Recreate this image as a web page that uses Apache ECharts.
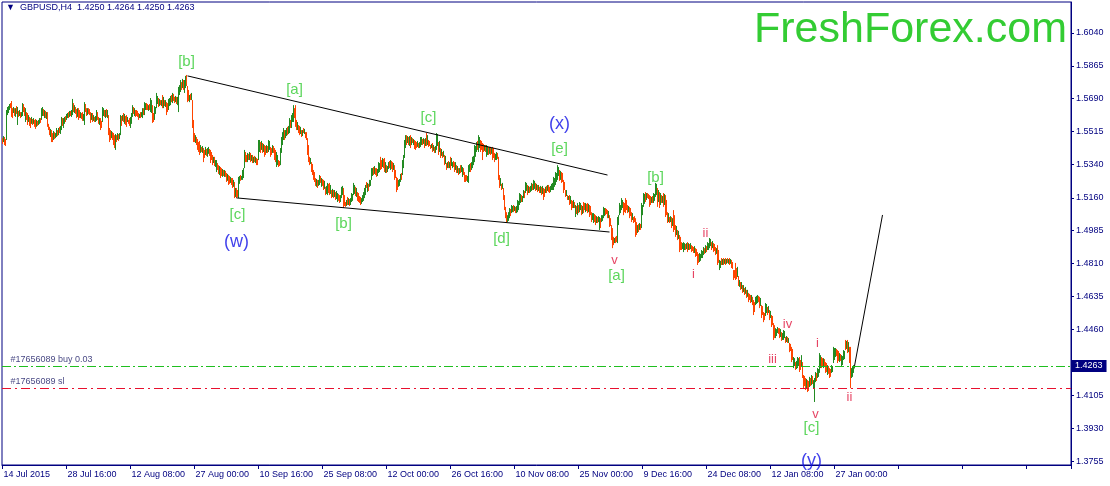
<!DOCTYPE html>
<html><head><meta charset="utf-8">
<script src="https://cdn.jsdelivr.net/npm/echarts@6/dist/echarts.min.js"></script>
<style>html,body{margin:0;padding:0;background:#fff}#c{width:1110px;height:486px}</style>
</head><body><div id="c"></div>
<script>
// ---- data ----
const symbolTitle = 'GBPUSD,H4';
const lastOHLC = ['1.4250', '1.4264', '1.4250', '1.4263'];
const timeLabels = ['14 Jul 2015','28 Jul 16:00','12 Aug 08:00','27 Aug 00:00','10 Sep 16:00','25 Sep 08:00','12 Oct 00:00','26 Oct 16:00','10 Nov 08:00','25 Nov 00:00','9 Dec 16:00','24 Dec 08:00','12 Jan 08:00','27 Jan 00:00'];
const barsPerLabel = 64;
const priceTicks = [1.6040,1.5865,1.5690,1.5515,1.5340,1.5160,1.4985,1.4810,1.4635,1.4460,1.4105,1.3930,1.3755];
// bar highs / lows in 1/10000 of a dollar (GBPUSD x 10000)
const highs = [
15479,15490,15485,15474,15629,15645,15650,15661,15666,15677,
15639,15645,15639,15639,15650,15645,15624,15629,15618,15618,
15666,15661,15645,15639,15618,15613,15602,15592,15586,15592,
15581,15586,15576,15581,15576,15571,15576,15586,15586,15639,
15645,15634,15629,15624,15618,15618,15555,15539,15528,15522,
15506,15517,15511,15506,15533,15522,15533,15539,15544,15592,
15586,15586,15592,15597,15608,15613,15618,15624,15624,15629,
15688,15666,15655,15645,15634,15639,15639,15629,15618,15613,
15618,15608,15671,15661,15639,15639,15639,15634,15618,15613,
15613,15602,15592,15597,15629,15618,15592,15586,15586,15571,
15645,15639,15629,15629,15634,15629,15602,15533,15522,15517,
15511,15506,15495,15501,15495,15506,15501,15506,15602,15597,
15602,15613,15608,15597,15602,15592,15576,15586,15592,15613,
15655,15645,15639,15629,15629,15624,15613,15608,15618,15618,
15639,15639,15671,15666,15666,15661,15655,15661,15693,15682,
15655,15613,15650,15645,15720,15704,15693,15688,15682,15682,
15709,15699,15682,15682,15671,15666,15688,15693,15704,15709,
15720,15715,15699,15704,15699,15699,15752,15762,15789,15778,
15795,15789,15789,15811,15816,15757,15736,15709,15715,15720,
15682,15576,15506,15495,15485,15474,15458,15464,15442,15432,
15437,15426,15416,15432,15421,15426,15432,15421,15416,15405,
15389,15379,15379,15362,15362,15346,15335,15330,15325,15319,
15314,15309,15309,15304,15293,15288,15282,15277,15272,15266,
15266,15256,15245,15213,15213,15202,15272,15277,15282,15277,
15309,15319,15416,15405,15389,15400,15395,15405,15400,15389,
15389,15379,15384,15379,15373,15368,15469,15469,15458,15464,
15453,15448,15442,15437,15442,15437,15469,15464,15432,15426,
15442,15437,15426,15416,15405,15389,15362,15357,15426,15485,
15511,15533,15522,15522,15533,15539,15544,15586,15576,15602,
15613,15655,15639,15655,15576,15565,15549,15544,15539,15522,
15522,15533,15528,15511,15511,15479,15442,15379,15373,15351,
15341,15309,15298,15266,15261,15256,15256,15282,15277,15266,
15261,15256,15251,15219,15224,15240,15235,15240,15229,15202,
15208,15202,15202,15191,15197,15186,15181,15175,15175,15219,
15224,15213,15175,15138,15149,15165,15159,15154,15159,15186,
15181,15240,15229,15219,15213,15191,15186,15170,15165,15159,
15175,15191,15213,15229,15245,15240,15235,15256,15256,15319,
15319,15325,15330,15319,15319,15314,15351,15346,15379,15362,
15373,15368,15373,15351,15335,15330,15351,15357,15362,15357,
15351,15346,15335,15309,15272,15266,15256,15261,15288,15293,
15362,15389,15469,15495,15495,15490,15485,15490,15495,15485,
15479,15474,15469,15464,15458,15464,15453,15458,15485,15485,
15474,15479,15474,15479,15506,15495,15469,15464,15442,15448,
15453,15442,15432,15437,15506,15501,15458,15464,15426,15421,
15405,15411,15389,15384,15346,15351,15357,15351,15379,15373,
15351,15357,15351,15351,15335,15330,15319,15319,15335,15335,
15325,15319,15298,15282,15282,15277,15335,15341,15346,15351,
15379,15384,15442,15437,15458,15464,15495,15485,15469,15464,
15453,15448,15442,15442,15442,15437,15432,15432,15432,15426,
15432,15426,15400,15395,15405,15400,15379,15282,15266,15235,
15240,15213,15175,15112,15084,15068,15084,15106,15101,15122,
15117,15122,15117,15112,15117,15149,15144,15186,15181,15175,
15170,15202,15197,15245,15240,15229,15224,15219,15224,15240,
15235,15256,15251,15240,15235,15229,15229,15219,15224,15219,
15224,15213,15208,15219,15224,15229,15229,15219,15224,15235,
15240,15272,15266,15298,15293,15335,15325,15309,15304,15298,
15293,15256,15245,15202,15202,15175,15170,15175,15170,15149,
15144,15149,15138,15122,15117,15133,15122,15138,15133,15122,
15117,15138,15133,15133,15128,15133,15128,15122,15117,15084,
15079,15079,15074,15068,15063,15058,15063,15058,15052,15068,
15068,15112,15106,15106,15101,15095,15090,15068,15052,15015,
14999,14952,14946,14952,14957,15058,15068,15133,15122,15159,
15149,15138,15133,15159,15149,15122,15117,15112,15106,15084,
15079,15058,15063,15052,15031,15015,15021,15026,15021,15133,
15122,15186,15181,15191,15186,15186,15181,15175,15170,15165,
15170,15186,15181,15240,15235,15213,15202,15191,15186,15175,
15170,15186,15181,15175,15149,15084,15079,15058,15063,15058,
15052,15095,15068,15015,15010,14989,14984,14962,14952,14924,
14919,14924,14919,14914,14919,14924,14919,14914,14919,14908,
14903,14898,14903,14892,14887,14871,14861,14866,14861,14882,
14877,14898,14892,14908,14903,14924,14919,14946,14941,14924,
14930,14919,14914,14898,14892,14908,14882,14829,14824,14839,
14834,14839,14834,14839,14834,14839,14834,14839,14834,14829,
14818,14775,14775,14813,14786,14792,14743,14722,14711,14711,
14695,14695,14679,14685,14669,14669,14653,14648,14642,14642,
14632,14615,14604,14632,14637,14642,14637,14632,14626,14588,
14583,14551,14546,14599,14594,14578,14583,14562,14557,14535,
14530,14492,14481,14465,14460,14471,14465,14465,14460,14444,
14439,14455,14450,14418,14423,14418,14412,14386,14381,14365,
14354,14311,14305,14284,14290,14311,14305,14311,14295,14321,
14284,14215,14210,14199,14194,14188,14183,14205,14199,14215,
14210,14188,14199,14231,14226,14252,14247,14332,14321,14311,
14305,14305,14300,14284,14279,14268,14263,14252,14247,14268,
14263,14365,14359,14359,14354,14348,14343,14332,14327,14321,
14316,14348,14343,14402,14397,14402,14391,14365,14365,14252,
14258,14268,14264];
const lows = [
15448,15458,15442,15437,15469,15602,15613,15629,15639,15592,
15586,15613,15597,15592,15608,15549,15592,15597,15586,15592,
15597,15618,15597,15565,15576,15549,15565,15544,15533,15555,
15549,15555,15539,15528,15539,15544,15549,15555,15560,15576,
15597,15597,15586,15586,15581,15539,15522,15495,15485,15458,
15458,15469,15474,15479,15485,15490,15495,15506,15501,15522,
15544,15533,15555,15565,15576,15586,15586,15592,15597,15592,
15602,15618,15613,15608,15586,15592,15576,15586,15586,15581,
15571,15571,15549,15618,15597,15602,15608,15602,15560,15576,
15565,15571,15565,15565,15571,15576,15555,15549,15522,15533,
15565,15597,15592,15586,15592,15586,15495,15458,15469,15479,
15469,15442,15426,15416,15458,15469,15464,15474,15495,15544,
15571,15565,15555,15549,15539,15565,15555,15544,15533,15555,
15592,15608,15597,15592,15597,15592,15576,15586,15586,15592,
15586,15602,15602,15629,15629,15629,15624,15629,15618,15613,
15560,15565,15576,15608,15639,15661,15645,15650,15655,15650,
15639,15639,15650,15645,15602,15618,15629,15650,15655,15671,
15666,15677,15666,15671,15661,15655,15618,15709,15725,15736,
15746,15736,15720,15746,15757,15671,15677,15671,15682,15682,
15533,15458,15458,15453,15442,15416,15405,15389,15400,15405,
15400,15351,15373,15389,15384,15379,15395,15384,15346,15362,
15335,15346,15330,15325,15298,15309,15288,15282,15266,15277,
15272,15277,15272,15272,15245,15251,15229,15235,15240,15229,
15213,15219,15159,15165,15159,15165,15159,15235,15251,15256,
15256,15266,15319,15351,15351,15351,15362,15362,15351,15357,
15346,15346,15351,15346,15335,15335,15362,15405,15400,15416,
15400,15405,15379,15389,15400,15400,15405,15416,15379,15389,
15400,15400,15362,15351,15325,15335,15325,15330,15335,15400,
15442,15469,15469,15479,15490,15495,15501,15506,15533,15533,
15565,15565,15586,15539,15522,15522,15506,15495,15501,15485,
15490,15506,15501,15479,15469,15389,15351,15335,15341,15298,
15282,15256,15245,15224,15219,15213,15224,15229,15240,15219,
15224,15202,15208,15175,15181,15175,15186,15175,15181,15159,
15165,15159,15165,15149,15154,15138,15144,15133,15138,15159,
15175,15106,15117,15112,15117,15122,15122,15117,15122,15138,
15144,15175,15181,15170,15165,15144,15138,15133,15122,15128,
15138,15144,15159,15175,15213,15191,15197,15219,15224,15256,
15277,15282,15288,15282,15272,15277,15293,15298,15309,15314,
15325,15319,15298,15293,15293,15298,15314,15319,15309,15314,
15298,15309,15256,15266,15191,15202,15219,15224,15245,15256,
15282,15319,15373,15426,15442,15453,15442,15437,15426,15442,
15453,15442,15421,15416,15426,15432,15426,15426,15432,15442,
15442,15448,15426,15437,15437,15442,15432,15437,15421,15426,
15405,15411,15400,15400,15416,15437,15389,15405,15373,15384,
15373,15379,15335,15341,15309,15319,15319,15319,15309,15330,
15319,15325,15298,15309,15293,15293,15282,15288,15293,15298,
15272,15282,15245,15245,15251,15245,15240,15298,15298,15309,
15319,15335,15351,15379,15405,15416,15405,15426,15405,15416,
15362,15405,15411,15405,15379,15389,15389,15395,15389,15395,
15362,15373,15351,15362,15362,15368,15256,15213,15224,15202,
15208,15149,15095,15052,15026,15031,15037,15052,15063,15079,
15084,15084,15090,15079,15079,15084,15095,15122,15133,15138,
15138,15159,15159,15186,15197,15175,15186,15186,15191,15197,
15202,15202,15208,15197,15202,15191,15197,15186,15186,15175,
15181,15149,15165,15186,15186,15197,15191,15186,15191,15202,
15202,15202,15219,15229,15245,15256,15277,15251,15256,15240,
15245,15186,15202,15165,15170,15149,15149,15122,15128,15095,
15106,15106,15106,15058,15074,15068,15079,15084,15095,15068,
15074,15079,15095,15084,15090,15079,15084,15058,15068,15031,
15042,15026,15031,15015,15026,15026,15031,14989,14999,15031,
15037,15052,15063,15068,15074,15052,15052,15005,15010,14935,
14892,14908,14919,14919,14924,14919,15015,15068,15079,15095,
15106,15068,15084,15079,15095,15079,15084,15052,15063,15031,
15042,15026,15031,14952,14962,14973,14978,14989,14989,14999,
15068,15112,15128,15138,15149,15159,15154,15112,15122,15133,
15133,15133,15144,15165,15175,15112,15138,15106,15122,15133,
15133,15112,15122,15058,15068,15026,15031,15026,15031,14999,
15010,14978,14989,14952,14962,14935,14941,14871,14882,14882,
14887,14871,14882,14882,14887,14871,14882,14882,14887,14871,
14877,14866,14866,14845,14850,14802,14813,14818,14824,14839,
14839,14855,14861,14866,14871,14882,14882,14892,14903,14882,
14892,14871,14877,14855,14861,14802,14813,14775,14786,14802,
14802,14802,14808,14802,14808,14813,14808,14802,14808,14786,
14781,14722,14732,14722,14727,14738,14690,14685,14669,14674,
14653,14658,14642,14648,14626,14632,14604,14615,14599,14604,
14588,14535,14551,14588,14594,14599,14604,14572,14583,14519,
14535,14497,14508,14530,14546,14535,14546,14508,14519,14471,
14481,14402,14412,14412,14423,14439,14434,14412,14418,14397,
14402,14402,14412,14386,14391,14386,14386,14337,14343,14284,
14295,14252,14263,14242,14247,14252,14263,14231,14242,14258,
14199,14145,14156,14135,14145,14124,14130,14151,14156,14161,
14167,14145,14071,14177,14183,14199,14205,14226,14252,14252,
14263,14252,14258,14226,14231,14215,14221,14199,14205,14226,
14231,14279,14295,14311,14316,14279,14290,14284,14290,14258,
14268,14295,14300,14348,14354,14332,14337,14279,14145,14199,
14205,14226,14250];
// bar direction: u = up (green), d = down (red)
const dirs =
'dudduuuudd'+'dududududu'+'uddudduddu'+'dudduduudu'+'udududddud'+
'duduududuu'+'duuduududu'+'ududduddud'+'duuddudddu'+'duduuddudd'+
'uudududddu'+'dddududuud'+'ududdudduu'+'ududdddudu'+'uduudduduu'+
'dduuuududu'+'dududduuud'+'udduduuuud'+'uduudddudu'+'ddduddddud'+
'udduduuddd'+'duduuddudd'+'ududduddud'+'dududduudu'+'uuuddududu'+
'dududduudu'+'dudduduudd'+'uddduudduu'+'uuduuduudu'+'uuddduddud'+
'ududddddud'+'dddduduudu'+'dduduuddud'+'ududuudduu'+'udddududuu'+
'uuududdddu'+'uuuududuuu'+'ududduuudd'+'udduduudud'+'dudddduuud'+
'uuuudududu'+'duddduduuu'+'dudududddu'+'duduuududu'+'dududududu'+
'uddudududu'+'udddduuudu'+'uuuuuduudd'+'dduduududu'+'ddduudddud'+
'udddduuudu'+'ududuuuuud'+'uuduududuu'+'duudududud'+'uddududduu'+
'uuuuuuudud'+'ddddududud'+'dudududuud'+'uddudduddd'+'uudduduudu'+
'uuuddduddd'+'ddudduuuuu'+'uddddduddd'+'uddddududu'+'uuududdddu'+
'duuuududud'+'ududddudud'+'udddududdd'+'uuudududud'+'ddudddduuu'+
'uududuuuud'+'udddudduud'+'ududududud'+'dddddududu'+'dudududddu'+
'ddduuuddud'+'ddduududud'+'ddduuuddud'+'uuudududdd'+'duuduuuddu'+
'dddduddudu'+'duuuduuuud'+'dudddudddu'+'uuuudddudu'+'uuudududdu'+
'uuu';
const buyPrice = 1.4263;
const slPrice = 1.4146;
const orderTexts = ['#17656089 buy 0.03', '#17656089 sl'];

// ---- annotations (anchored in data space: bar index, price) ----
const trendLines = [[185, 1.5811, 605, 1.5282], [234, 1.5160, 607, 1.4978], [852, 1.4263, 880, 1.5069]];
const greenWaves = [['[b]',184,1.5885],['[a]',292,1.5736],['[c]',426,1.5586],['[e]',557,1.5421],['[c]',235,1.5069],['[b]',341,1.5021],['[d]',499,1.4941],['[b]',653,1.5266],['[a]',614,1.4743],['[c]',809,1.3932]];
const blueWaves = [['(w)',234,1.4925],['(x)',557,1.5554],['(y)',809,1.3758]];
const redWaves = [['v',612,1.4829],['ii',703,1.4973],['i',691,1.4754],['iv',785,1.4487],['iii',770,1.4300],['i',815,1.4386],['v',813,1.4007],['ii',847,1.4098]];
const orderLabelAnchors = [[8, 1.4295], [8, 1.4178]];

// ---- build ----
const SLOTS = 1069;
const NAVY = '#000080';
const FONT = "'Liberation Sans', Arial, sans-serif";
const categories = Array.from({length: SLOTS}, (_, i) => i);
const candles = highs.map((h, i) => {
  const hi = h / 10000, lo = lows[i] / 10000;
  return dirs[i] === 'u' ? [lo, hi, lo, hi] : [hi, lo, lo, hi];
});
const pMin = 1.37348, pMax = 1.62053;

function textSeries(list, color, size) {
  return {
    type: 'scatter', symbolSize: 0, silent: true, z: 5,
    data: list.map(d => ({value: [d[1], d[2]], name: d[0]})),
    label: {show: true, position: 'inside', formatter: p => p.name, color: color,
      fontSize: size, fontFamily: FONT}
  };
}

const chart = echarts.init(document.getElementById('c'), null, {renderer: 'canvas'});
chart.setOption({
  animation: false,
  backgroundColor: '#fff',
  title: [
    {text: '\u25BC  ' + symbolTitle + '  ' + lastOHLC.join(' '), left: 6, top: 3, padding: 0,
     textStyle: {fontSize: 9, fontWeight: 'normal', color: NAVY, fontFamily: FONT}},
    {text: 'FreshForex.com', left: 754, top: 9, padding: 0,
     textStyle: {fontSize: 43, fontWeight: 'normal', color: '#33cc33', fontFamily: FONT}}
  ],
  grid: {left: 2, right: 39, top: 2, bottom: 21, show: true, borderColor: NAVY, borderWidth: 1, backgroundColor: '#fff'},
  xAxis: {
    type: 'category', data: categories, boundaryGap: true,
    axisLine: {lineStyle: {color: NAVY, width: 1}},
    axisTick: {show: true, length: 4, interval: i => i % barsPerLabel === 0, lineStyle: {color: NAVY}},
    axisLabel: {interval: i => i % barsPerLabel === 0, formatter: (v, i) => timeLabels[i / barsPerLabel] || '',
      align: 'left', padding: [0, 0, 0, 1], margin: 5, color: NAVY, fontSize: 9, fontFamily: FONT},
    splitLine: {show: false}
  },
  yAxis: {
    type: 'value', position: 'right', min: pMin, max: pMax, scale: true,
    axisLine: {show: true, lineStyle: {color: NAVY, width: 1}},
    axisTick: {show: true, length: 3, customValues: priceTicks, lineStyle: {color: NAVY}},
    axisLabel: {customValues: priceTicks, formatter: v => v.toFixed(4), margin: 5,
      color: NAVY, fontSize: 9, fontFamily: FONT},
    splitLine: {show: false}
  },
  series: [
    {
      type: 'candlestick', name: 'GBPUSD', data: candles, large: true, largeThreshold: 300,
      itemStyle: {color: '#228b22', color0: '#ff4500', borderColor: '#228b22', borderColor0: '#ff4500', borderWidth: 1},
      markLine: {
        silent: true, symbol: ['none', 'none'], animation: false, precision: 4,
        data: [
          ...trendLines.map(t => [{coord: [t[0], t[1]], lineStyle: {color: '#000', width: 1, type: 'solid'}, label: {show: false}},
                                  {coord: [t[2], t[3]]}]),
          {yAxis: buyPrice, lineStyle: {color: '#1fbf1f', width: 1, type: [9, 3, 2, 3]},
           label: {show: true, position: 'end', distance: 1, formatter: p => Number(p.value).toFixed(4),
             backgroundColor: NAVY, color: '#fff', padding: [2, 4, 1, 3], fontSize: 9, fontFamily: FONT}},
          {yAxis: slPrice, lineStyle: {color: '#e8102e', width: 1, type: [9, 4, 2, 4]}, label: {show: false}}
        ]
      }
    },
    textSeries(greenWaves, '#33cc33', 15),
    textSeries(blueWaves, '#0f0fe6', 18),
    textSeries(redWaves, '#e0143c', 13),
    {
      type: 'scatter', symbolSize: 0, silent: true, z: 5,
      data: orderLabelAnchors.map((a, i) => ({value: a, name: orderTexts[i]})),
      label: {show: true, position: 'right', distance: 0, formatter: p => p.name, color: '#141460', fontSize: 9, fontFamily: FONT}
    }
  ]
});
</script></body></html>
